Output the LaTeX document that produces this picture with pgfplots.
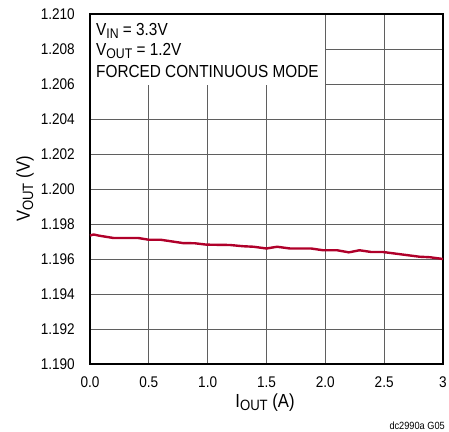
\documentclass[border=0pt]{standalone}
\usepackage{fontspec}
\setmainfont{Liberation Sans}[FakeStretch=0.88]
\usepackage{pgfplots}
\pgfplotsset{compat=1.18}
\definecolor{curve}{RGB}{176,0,42}
\definecolor{gridc}{RGB}{95,95,95}
\newcommand{\sub}[1]{\raisebox{-0.32ex}{\fontsize{14}{14}\selectfont #1}}
\newcommand{\subl}[1]{\raisebox{-0.32ex}{\fontsize{15}{15}\selectfont #1}}

\begin{document}
\begin{tikzpicture}
\begin{axis}[
    name=ax,
    scale only axis,
    width=353bp, height=350bp,
    xmin=0, xmax=3, ymin=1.190, ymax=1.210,
    xtick={0,0.5,1,1.5,2,2.5,3},
    xticklabels={0.0,0.5,1.0,1.5,2.0,2.5,3},
    ytick={1.190,1.192,1.194,1.196,1.198,1.200,1.202,1.204,1.206,1.208,1.210},
    yticklabel style={/pgf/number format/fixed,
        /pgf/number format/fixed zerofill,
        /pgf/number format/precision=3,
        anchor=east, inner sep=0pt, xshift=-15bp},
    /pgf/number format/assume math mode=true,
    tick label style={font=\fontsize{15.5}{15.5}\selectfont},
    xticklabel style={anchor=north, inner sep=0pt, yshift=-13bp},
    major tick length=0pt,
    grid=major,
    major grid style={gridc, line width=0.9bp},
    axis line style={line width=1.6bp},
    clip=false,
]
\fill[white] ([xshift=1bp]axis cs:0,1.20594) rectangle ([xshift=-0.5bp,yshift=-1bp]axis cs:2.0,1.210);
\addplot[curve, line width=2.4bp] coordinates {
    (0.00,1.19734) (0.03,1.19740) (0.08,1.19733) (0.20,1.19720)
    (0.41,1.19720) (0.50,1.19710) (0.60,1.19710) (0.79,1.19691)
    (0.89,1.19690) (0.99,1.19682) (1.19,1.19680) (1.30,1.19673)
    (1.39,1.19670) (1.50,1.19660) (1.59,1.19670) (1.70,1.19660)
    (1.88,1.19660) (1.98,1.19650) (2.10,1.19650) (2.20,1.19638)
    (2.29,1.19650) (2.39,1.19640) (2.49,1.19640) (2.80,1.19613)
    (2.89,1.19610) (3.00,1.19600)
};
\coordinate (sw) at (rel axis cs:0,0);
\coordinate (nw) at (rel axis cs:0,1);
\end{axis}
\node[anchor=base west, inner sep=0pt, font=\fontsize{17.5}{17.5}\selectfont]
    at ([xshift=6bp,yshift=-21.5bp]nw) {V\sub{IN} = 3.3V};
\node[anchor=base west, inner sep=0pt, font=\fontsize{17.5}{17.5}\selectfont]
    at ([xshift=6bp,yshift=-41.5bp]nw) {V\sub{OUT} = 1.2V};
\node[anchor=base west, inner sep=0pt, font=\fontsize{17.5}{17.5}\selectfont]
    at ([xshift=6bp,yshift=-63.5bp]nw) {FORCED CONTINUOUS MODE};
\node[anchor=base, inner sep=0pt, font=\fontsize{19}{19}\selectfont]
    at ([xshift=175bp,yshift=-43bp]sw) {I\subl{OUT} (A)};
\node[anchor=base, rotate=90, inner sep=0pt, font=\fontsize{19}{19}\selectfont]
    at ([xshift=-60bp,yshift=175bp]sw) {V\subl{OUT} (V)};
\node[anchor=base east, inner sep=0pt, font=\fontsize{10.5}{10.5}\selectfont]
    at ([xshift=355bp,yshift=-65bp]sw) {dc2990a G05};
\pgfresetboundingbox
\path[use as bounding box] ([shift={(-90bp,-68bp)}]sw) rectangle ([shift={(359bp,14bp)}]nw);
\end{tikzpicture}
\end{document}
